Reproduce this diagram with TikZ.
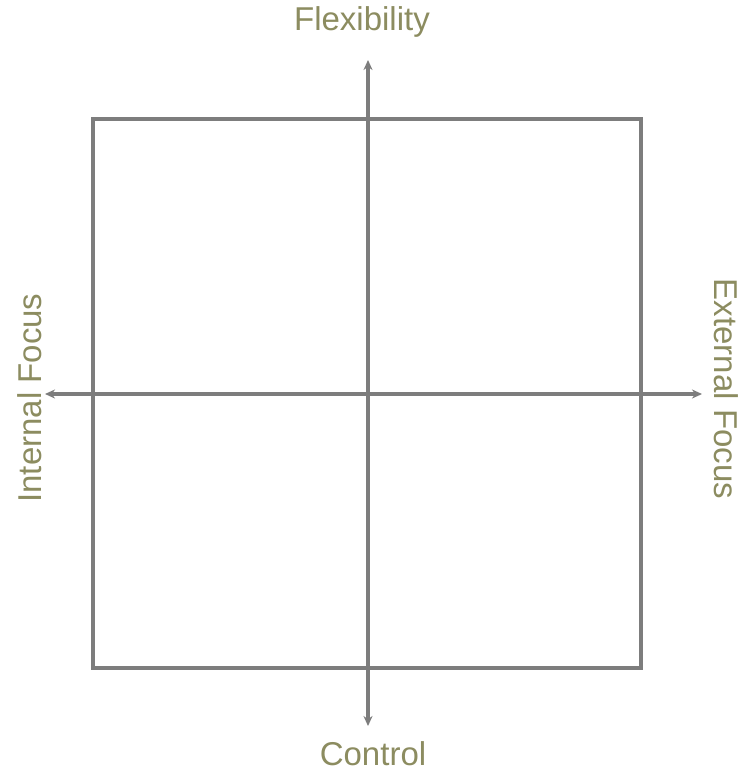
\documentclass[tikz,border=0pt]{standalone}
\usepackage{fontspec}
\setmainfont{Liberation Sans}
\usetikzlibrary{arrows.meta}
\definecolor{axisgray}{RGB}{125,125,125}
\definecolor{labelolive}{RGB}{140,140,96}
\tikzset{
  frame/.style={draw=axisgray, line width=3.2pt},
  axisline/.style={draw=axisgray, line width=3.2pt, {Stealth[length=10pt,width=9pt]}-{Stealth[length=10pt,width=9pt]}},
  axislabel/.style={text=labelolive, font=\fontsize{33}{36}\selectfont, inner sep=0pt}
}
\begin{document}
\begin{tikzpicture}[x=1pt,y=-1pt]
\fill[white] (0,0) rectangle (743,778);
\useasboundingbox (0,0) rectangle (743,778);
\node[frame, minimum width=548pt, minimum height=549pt, inner sep=0pt] (box) at (367,393.5) {};
\coordinate (top) at (368,60);
\coordinate (bottom) at (368,726);
\coordinate (left) at (45,394);
\coordinate (right) at (702,394);
\draw[axisline] (bottom) -- (top);
\draw[axisline] (left) -- (right);
\node[axislabel] (flex) at (362,22) {Flexibility};
\node[axislabel] (ctrl) at (373,754) {Control};
\node[axislabel, rotate=90] (int) at (30,398) {Internal Focus};
\node[axislabel, rotate=-90] (ext) at (726,389) {External Focus};
\end{tikzpicture}
\end{document}
